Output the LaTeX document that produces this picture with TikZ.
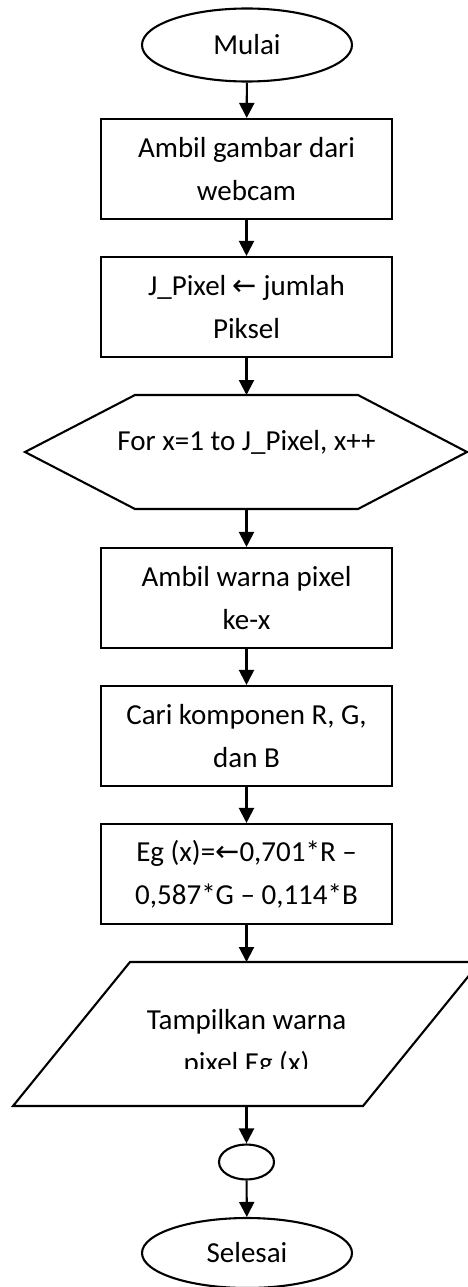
\documentclass[tikz,border=0pt]{standalone}
\usepackage{fontspec}
\setmainfont{Carlito}
\newfontfamily\arrowfont{DejaVu Sans}
\usetikzlibrary{shapes,arrows.meta}
\newcommand{\larr}{{\arrowfont\symbol{"2190}}}
\newcommand{\lw}{2.1pt}

\begin{document}
\begin{tikzpicture}[x=1pt, y=-1pt,
    every node/.style = {font=\fontsize{29}{43}\selectfont, align=center},
    box/.style = {draw, line width=\lw, minimum width=291pt, minimum height=100pt, inner sep=0pt},
    term/.style = {draw, ellipse, line width=\lw, minimum width=210pt, minimum height=73pt, inner sep=0pt},
    flow/.style = {line width=\lw, -{Triangle[length=15pt, width=15pt]}}]
    \useasboundingbox (0,0) rectangle (467,1287);
    %\draw[help lines, step=50] (0,0) grid (467,1287);
    \node[term] (start) at (247,45) {Mulai};
    \node[box] (grab) at (246.5,169) {Ambil gambar dari\\webcam};
    \node[box] (count) at (246.5,307) {J\_Pixel \larr\ jumlah\\Piksel};
    % loop header
    \coordinate (loop top) at (246.5,395);
    \coordinate (loop bot) at (246.5,509);
    \draw[line width=\lw, line join=miter] (25,452) -- (135,395) -- (358,395) -- (467,452)
        -- (358,509) -- (135,509) -- cycle;
    \node (loop) at (246.5,442) {For x=1 to J\_Pixel, x++};
    \node[box] (color) at (246.5,598) {Ambil warna pixel\\ke-x};
    \node[box] (rgb) at (246.5,736) {Cari komponen R, G,\\dan B};
    \node[box] (eg) at (246.5,874) {Eg (x)=\larr0,701*R –\\0,587*G – 0,114*B};
    % output
    \coordinate (show top) at (246.5,962);
    \coordinate (show bot) at (246.5,1106);
    \draw[line width=\lw, line join=miter] (130,962) -- (480,962) -- (363,1106) -- (13,1106) -- cycle;
    \begin{scope}
        \clip (0,962) rectangle (467,1068);
        \node (show) at (246.5,1043) {Tampilkan warna\\pixel Eg (x)};
    \end{scope}
    \node[term, minimum width=55pt, minimum height=35pt] (joint) at (246.5,1162) {};
    \node[term, minimum height=70pt] (stop) at (247,1253) {Selesai};
    \draw[flow] (start) -- (grab);
    \draw[flow] (grab) -- (count);
    \draw[flow] (count) -- (loop top);
    \draw[flow] (loop bot) -- (color);
    \draw[flow] (color) -- (rgb);
    \draw[flow] (rgb) -- (eg);
    \draw[flow] (eg) -- (show top);
    \draw[flow] (show bot) -- (joint);
    \draw[flow] (joint) -- (stop);
\end{tikzpicture}
\end{document}
